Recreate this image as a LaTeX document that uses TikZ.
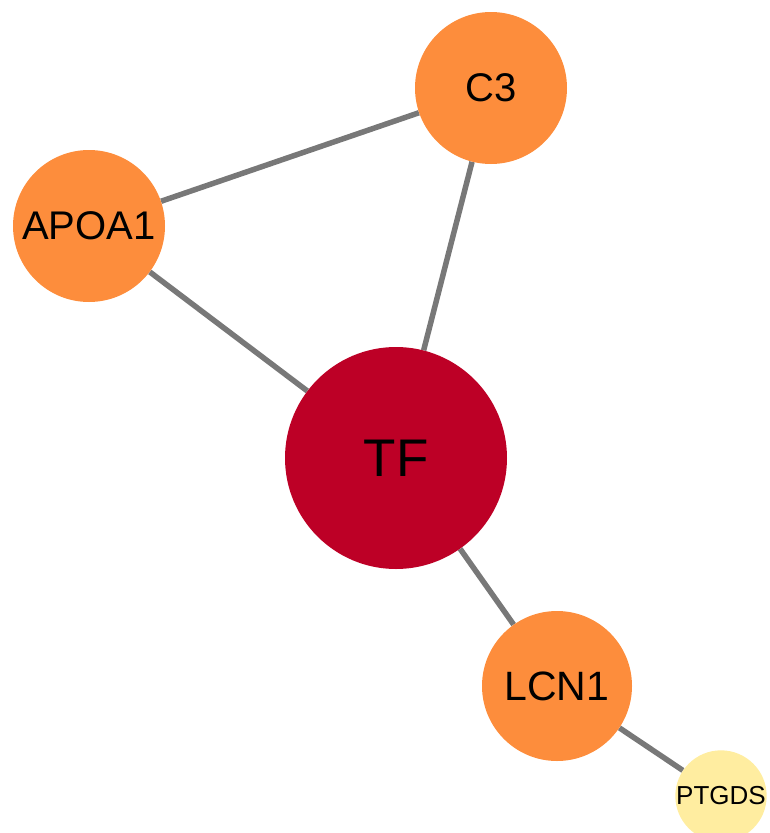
\documentclass[tikz,border=0pt]{standalone}
\usepackage{fontspec}
\setmainfont{Liberation Sans}
\usetikzlibrary{backgrounds}

\definecolor{hubred}{RGB}{189,0,38}
\definecolor{midorange}{RGB}{253,141,60}
\definecolor{lowyellow}{RGB}{255,237,160}
\definecolor{edgegray}{RGB}{120,120,120}

\begin{document}
\begin{tikzpicture}[
        x=1pt, y=-1pt,
        gene/.style={
            circle, draw=none, inner sep=0pt,
            text centered, text=black
        },
        link/.style={draw=edgegray, line width=5.5pt}
    ]
        \useasboundingbox (0,0) rectangle (769,833);

        % Genes
        \node[gene, fill=midorange, minimum size=152pt,
              font=\fontsize{40}{40}\selectfont] (c3) at (491,88) {C3};
        \node[gene, fill=midorange, minimum size=152pt,
              font=\fontsize{40}{40}\selectfont] (apoa1) at (89,226) {APOA1};
        \node[gene, fill=hubred, minimum size=222pt,
              font=\fontsize{53}{53}\selectfont] (tf) at (396,458) {TF};
        \node[gene, fill=midorange, minimum size=150pt,
              font=\fontsize{41}{41}\selectfont] (lcn1) at (557,686) {LCN1};
        \node[gene, fill=lowyellow, minimum size=84pt,
              font=\fontsize{26}{26}\selectfont] (ptgds) at (721,796) {PTGDS};

        % Interactions
        \begin{scope}[on background layer]
            \draw[link] (c3) -- (apoa1);
            \draw[link] (c3) -- (tf);
            \draw[link] (apoa1) -- (tf);
            \draw[link] (tf) -- (lcn1);
            \draw[link] (lcn1) -- (ptgds);
        \end{scope}

    \end{tikzpicture}
\end{document}
